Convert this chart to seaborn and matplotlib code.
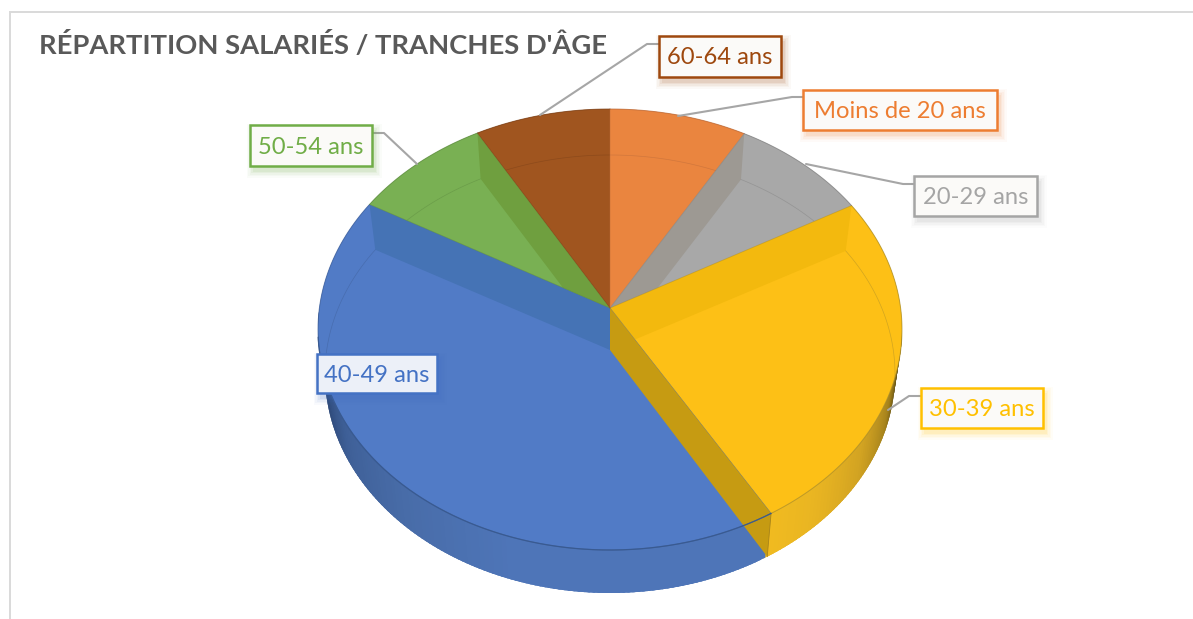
import numpy as np
import matplotlib
matplotlib.use("Agg")
import matplotlib.pyplot as plt
from matplotlib.patches import Rectangle
from matplotlib.transforms import Affine2D
import seaborn as sns

# ---- data ----
categories = ["Moins de 20 ans", "20-29 ans", "30-39 ans", "40-49 ans", "50-54 ans", "60-64 ans"]
shares = [7.6, 7.9, 25.2, 43.9, 7.9, 7.5]
title = "RÉPARTITION SALARIÉS / TRANCHES D'ÂGE"

# ---- style ----
face_colors = ["#ea853f", "#a8a8a8", "#fdc016", "#517bc6", "#79b053", "#a0551f"]
label_colors = ["#ed7d31", "#a5a5a5", "#ffc000", "#4472c4", "#70ad47", "#9e480e"]
rim_colors = ["#b8693a", "#808080", "#a68a2a", "#3f5f98", "#5d8a40", "#7a4018"]
back_wall = {1: "#9d9993", 2: "#f3b90e", 3: "#4573b5", 4: "#6f9f3f"}

sns.set_theme(style="white")
plt.rcParams["font.family"] = ["Lato", "DejaVu Sans"]
palette = sns.color_palette(face_colors)

W, H = 1193, 619
fig = plt.figure(figsize=(W / 100, H / 100), dpi=100, facecolor="white")
ax = fig.add_axes([0, 0, 1, 1])

# layout in pixels
cx, cy_top, rx_top, ry_top = 610, 329.5, 292, 220.5
cy_low, rx_low, ry_low = 374, 285, 219
apex_top = (610, 308)
apex_low = (610, 350)

# The pie supplies the slice angles and the base disc
wedges, _ = ax.pie(shares, colors=palette, startangle=90, counterclock=False,
                   wedgeprops=dict(linewidth=0))
ax.set_aspect("auto")
ax.set_xlim(0, W)
ax.set_ylim(H, 0)
ax.axis("off")
ax.set_position([0, 0, 1, 1])
base = Affine2D().scale(rx_top, -ry_top).translate(cx, cy_top) + ax.transData
for w in wedges:
    w.set_transform(base)
    w.set_zorder(1)
edges = [(90 - w.theta2 if 90 - w.theta2 >= -1e-6 else 90 - w.theta2 + 360,
          90 - w.theta1 if 90 - w.theta1 > 0 else 90 - w.theta1 + 360) for w in wedges]
edges = sorted([(min(a, b), max(a, b)) for a, b in edges])


def upper(t):
    t = np.radians(t)
    return cx + rx_top * np.sin(t), cy_top - ry_top * np.cos(t)


def lower(t):
    t = np.radians(t)
    return cx + rx_low * np.sin(t), cy_low - ry_low * np.cos(t)


z = [2]


def nz():
    z[0] += 1
    return z[0]


def hexrgb(h):
    return np.array(matplotlib.colors.to_rgb(h))


def ramp(t, stops):
    ts = [s[0] for s in stops]
    cols = np.array([hexrgb(s[1]) for s in stops])
    return tuple(np.interp(t, ts, cols[:, i]) for i in range(3))


# outer side of the disc, shaded by angle
yellow_end = edges[2][1]
yellow_stops = [(90, "#463a0e"), (97, "#5f4d12"), (106, "#a5821c"), (120, "#d2a322"), (135, "#e9b522"), (147, "#f1bb20")]
blue_stops = [(146, "#4e75b8"), (200, "#4e75b8"), (225, "#486ca8"), (245, "#3f6098"), (258, "#304c7c"), (272, "#263d66")]
for t in np.arange(88, 274, 1.0):
    # each strip overlaps the next, so no seams show
    t2 = t + 2.5 if t + 1 < yellow_end else t + 1
    if t >= yellow_end - 1 and t < yellow_end:
        t2 = yellow_end
    if t >= yellow_end:
        t2 = t + 2.5
    stops = yellow_stops if t < yellow_end else blue_stops
    c = ramp(t + 0.5, stops)
    (x1, y1), (x2, y2) = upper(t), upper(t2)
    (x3, y3), (x4, y4) = lower(t2), lower(t)
    ax.fill([x1, x2, x3, x4], [y1, y2, y3, y4], color=c, lw=0, zorder=nz())

# top faces, their walls and the inner arc
slice_polys = []
for i, (a, b) in enumerate(edges):
    ts = np.linspace(a, b, 120)
    ux, uy = upper(ts)
    poly = ax.fill(np.r_[apex_top[0], ux], np.r_[apex_top[1], uy], color=palette[i], lw=0, zorder=nz())[0]
    slice_polys.append(poly)

for i, (a, b) in enumerate(edges):
    poly = slice_polys[i]
    if i in back_wall:
        t = a if i in (1, 2) else b
        u, l = upper(t), lower(t)
        wall = ax.fill([apex_top[0], u[0], l[0], apex_low[0]], [apex_top[1], u[1], l[1], apex_low[1]],
                       color=back_wall[i], lw=0, zorder=nz())[0]
        wall.set_clip_path(poly)
    ts = np.linspace(a, b, 120)
    lx, ly = lower(ts)
    line, = ax.plot(lx, ly, color=rim_colors[i], lw=0.5, alpha=0.5, zorder=nz())
    line.set_clip_path(poly)

# edges between the slices
for i, (a, b) in enumerate(edges):
    u = upper(b)
    ax.plot([apex_top[0], u[0]], [apex_top[1], u[1]], color=rim_colors[(i + 1) % 6], lw=0.6, alpha=0.5, zorder=nz())

# front wall of the 30-39 slice
t = edges[2][1]
u, l = upper(t), lower(t)
ax.fill([apex_top[0], u[0], l[0], apex_low[0]], [apex_top[1], u[1], l[1], apex_low[1]],
        color="#c69b12", lw=0, zorder=nz())
ax.plot([u[0], l[0]], [u[1], l[1]], color="#a8841a", lw=0.6, zorder=nz())

# outer rim and front edge of the top face
for i, (a, b) in enumerate(edges):
    ts = np.linspace(a, b, 120)
    ux, uy = upper(ts)
    ax.plot(ux, uy, color=rim_colors[i], lw=0.7, alpha=0.7, zorder=nz())
ts = np.linspace(yellow_end, 268, 200)
ux, uy = upper(ts)
ax.plot(ux, uy, color="#38598f", lw=0.9, alpha=0.9, zorder=nz())

# chart frame
ax.plot([10, 10, W], [H, 12, 12], color="#d9d9d9", lw=1.4, zorder=nz(), solid_joinstyle="miter", clip_on=False)

# title
ax.text(39, 54, title, fontsize=19.7, fontweight="bold", color="#595959", ha="left", va="baseline", zorder=nz())

# leader lines
leaders = {
    "60-64 ans": [(659, 44), (647, 44), (540, 115)],
    "Moins de 20 ans": [(803, 97), (792, 97), (678, 116)],
    "20-29 ans": [(914, 184), (903, 184), (806, 164)],
    "30-39 ans": [(921, 396), (909, 396), (888, 410)],
    "50-54 ans": [(372, 133), (384, 133), (417, 164)],
}
for pts in leaders.values():
    xs, ys = zip(*pts)
    ax.plot(xs, ys, color="#a6a6a6", lw=1.5, zorder=nz())

# label boxes (left, top, right, bottom in pixels)
boxes = {
    "Moins de 20 ans": (803, 90, 997, 130),
    "20-29 ans": (914, 176, 1037, 216),
    "30-39 ans": (921, 388, 1043, 428),
    "40-49 ans": (317, 354, 437, 393),
    "50-54 ans": (250, 125, 372, 166),
    "60-64 ans": (659, 36, 781, 77),
}
for name, col in zip(categories, label_colors):
    x0, y0, x1, y1 = boxes[name]
    for grow, alpha in zip((13, 10, 7, 4, 1), (0.03, 0.04, 0.05, 0.07, 0.09)):
        ax.add_patch(Rectangle((x0 + 3 - grow / 2, y0 + 5 - grow / 2), x1 - x0 + grow, y1 - y0 + grow,
                               facecolor=col, edgecolor="none", alpha=alpha, zorder=nz()))
    fill = "#ecf0f8" if name == "40-49 ans" else "#fbfaf8"
    ax.add_patch(Rectangle((x0, y0), x1 - x0, y1 - y0, facecolor=fill, edgecolor=col, lw=1.8, zorder=nz()))
    ax.text((x0 + x1) / 2, (y0 + y1) / 2 + 1.5, name, color=col, fontsize=17.1, ha="center", va="center", zorder=nz())

fig.savefig("out.png", dpi=100, facecolor="white")
